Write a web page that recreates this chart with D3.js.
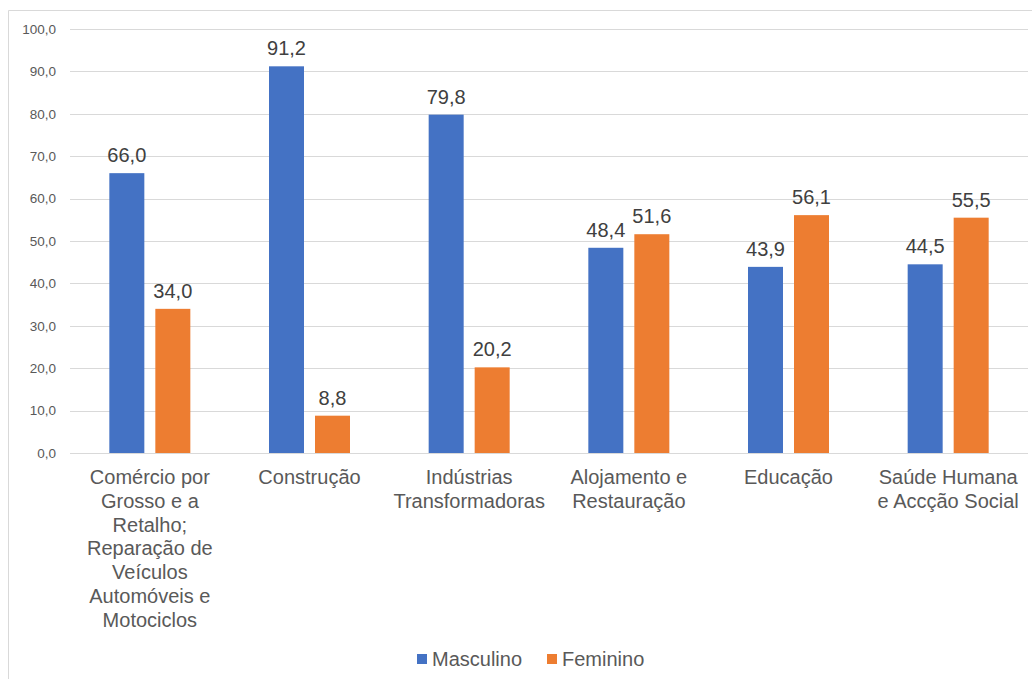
<!DOCTYPE html>
<html>
<head>
<meta charset="utf-8">
<script src="https://cdn.jsdelivr.net/npm/d3@7"></script>
<style>
  body { margin:0; background:#fff; }
  text { font-family: "Liberation Sans", Arial, sans-serif; }
</style>
</head>
<body>
<div id="chart"></div>
<script>
var categories = ["Comércio", "Construção", "Indústrias", "Alojamento", "Educação", "Saúde"];
var categoryLines = [
  ["Comércio por","Grosso e a","Retalho;","Reparação de","Veículos","Automóveis e","Motociclos"],
  ["Construção"],
  ["Indústrias","Transformadoras"],
  ["Alojamento e","Restauração"],
  ["Educação"],
  ["Saúde Humana","e Accção Social"]
];
var masculino = [66.0, 91.2, 79.8, 48.4, 43.9, 44.5];
var feminino = [34.0, 8.8, 20.2, 51.6, 56.1, 55.5];
var seriesNames = ["Masculino", "Feminino"];
var yTicks = [0,10,20,30,40,50,60,70,80,90,100];

var W = 1032, H = 679;
var colors = ["#4472C4", "#ED7D31"];

var svg = d3.select("#chart").append("svg")
  .attr("width", W)
  .attr("height", H);

// chart border (only top and left visible)
svg.append("path")
  .attr("d", "M8.5," + H + "V10.5H" + W)
  .attr("fill", "none")
  .attr("stroke", "#d9d9d9");

var x0 = d3.scaleBand().domain(categories).range([70, 1028]).paddingInner(0).paddingOuter(0);
var y = d3.scaleLinear().domain([0, 100]).range([453, 29]);

var barW = 35, barGap = 11;
var x1 = d3.scaleOrdinal().domain(seriesNames)
  .range([-(barW + barGap/2), barGap/2]);

// gridlines
svg.append("g").selectAll("line")
  .data(yTicks)
  .join("line")
  .attr("x1", 70).attr("x2", 1028)
  .attr("y1", function(d){ return Math.round(y(d)) + 0.5; })
  .attr("y2", function(d){ return Math.round(y(d)) + 0.5; })
  .attr("stroke", "#d9d9d9");

// y tick labels
var fmt = function(d){ return d3.format(".1f")(d).replace(".", ","); };
svg.append("g").selectAll("text")
  .data(yTicks)
  .join("text")
  .attr("x", 56)
  .attr("y", function(d){ return y(d); })
  .attr("dy", "0.35em")
  .attr("text-anchor", "end")
  .attr("font-size", "13.5px")
  .attr("fill", "#595959")
  .text(fmt);

var rows = categories.map(function(c, i){
  return { cat: c, vals: [masculino[i], feminino[i]] };
});

var groups = svg.append("g").selectAll("g")
  .data(rows)
  .join("g")
  .attr("transform", function(d){ return "translate(" + (x0(d.cat) + x0.bandwidth()/2) + ",0)"; });

groups.selectAll("rect")
  .data(function(d){ return d.vals.map(function(v, j){ return { s: seriesNames[j], v: v, j: j }; }); })
  .join("rect")
  .attr("x", function(d){ return x1(d.s); })
  .attr("width", barW)
  .attr("y", function(d){ return y(d.v); })
  .attr("height", function(d){ return y(0) - y(d.v); })
  .attr("fill", function(d){ return colors[d.j]; });

groups.selectAll("text.val")
  .data(function(d){ return d.vals.map(function(v, j){ return { s: seriesNames[j], v: v, j: j }; }); })
  .join("text")
  .attr("class", "val")
  .attr("x", function(d){ return x1(d.s) + barW/2; })
  .attr("y", function(d){ return y(d.v) - 11; })
  .attr("text-anchor", "middle")
  .attr("font-size", "20px")
  .attr("fill", "#404040")
  .text(function(d){ return fmt(d.v); });

// category labels
groups.append("text")
  .attr("text-anchor", "middle")
  .attr("font-size", "20px")
  .attr("fill", "#595959")
  .selectAll("tspan")
  .data(function(d, i){ return categoryLines[i]; })
  .join("tspan")
  .attr("x", 0)
  .attr("y", function(d, k){ return 477 + k * 23.8; })
  .attr("dy", "0.35em")
  .text(function(d){ return d; });

// legend
var legendX = [417, 547];
var legend = svg.append("g").selectAll("g")
  .data(seriesNames)
  .join("g")
  .attr("transform", function(d, i){ return "translate(" + legendX[i] + ",659)"; });

legend.append("rect")
  .attr("x", 0).attr("y", -5)
  .attr("width", 10).attr("height", 10)
  .attr("fill", function(d, i){ return colors[i]; });

legend.append("text")
  .attr("x", 15)
  .attr("dy", "0.35em")
  .attr("font-size", "20px")
  .attr("fill", "#595959")
  .text(function(d){ return d; });
</script>
</body>
</html>
